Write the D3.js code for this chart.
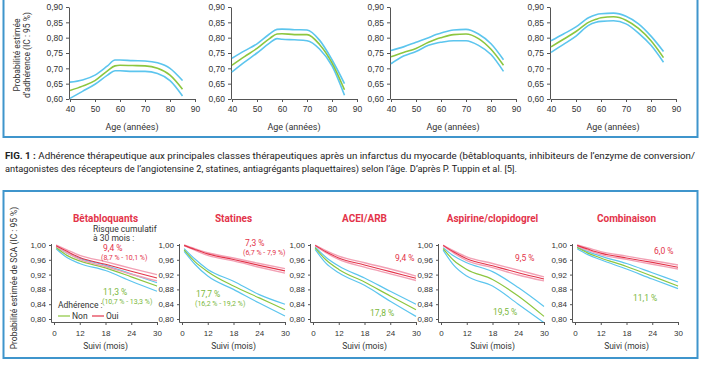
<!DOCTYPE html>
<html>
<head>
<meta charset="utf-8">
<script src="https://cdn.jsdelivr.net/npm/d3@7"></script>
<style>
  body { margin: 0; background: #fff; }
  svg { display: block; font-family: "Roboto", "Noto Sans", sans-serif; }
</style>
</head>
<body>
<svg id="fig" width="702" height="370"></svg>
<script>
// ---- top figure : adherence vs age ----
const ages = [40, 45, 50, 55, 58, 60, 65, 70, 75, 80, 85];
const topUpper = [
  [0.655, 0.662, 0.678, 0.708, 0.727, 0.727, 0.725, 0.724, 0.718, 0.700, 0.660],
  [0.733, 0.757, 0.780, 0.812, 0.827, 0.828, 0.826, 0.825, 0.792, 0.728, 0.650],
  [0.758, 0.770, 0.785, 0.800, 0.810, 0.815, 0.825, 0.827, 0.812, 0.780, 0.728],
  [0.790, 0.812, 0.835, 0.865, 0.875, 0.878, 0.880, 0.870, 0.845, 0.805, 0.755]
];
const topMid = [
  [0.628, 0.642, 0.660, 0.692, 0.708, 0.710, 0.709, 0.708, 0.700, 0.678, 0.632],
  [0.710, 0.738, 0.765, 0.797, 0.812, 0.813, 0.810, 0.810, 0.778, 0.718, 0.630],
  [0.738, 0.752, 0.765, 0.785, 0.795, 0.800, 0.810, 0.812, 0.797, 0.762, 0.710],
  [0.770, 0.795, 0.820, 0.850, 0.860, 0.865, 0.868, 0.857, 0.830, 0.790, 0.735]
];
const topLower = [
  [0.602, 0.625, 0.648, 0.678, 0.692, 0.692, 0.690, 0.690, 0.683, 0.660, 0.610],
  [0.688, 0.720, 0.750, 0.782, 0.797, 0.795, 0.793, 0.790, 0.763, 0.708, 0.612],
  [0.715, 0.740, 0.755, 0.775, 0.782, 0.785, 0.790, 0.790, 0.775, 0.745, 0.690],
  [0.752, 0.778, 0.805, 0.840, 0.850, 0.853, 0.855, 0.845, 0.815, 0.775, 0.720]
];
const ageTicks = [40, 50, 60, 70, 80, 90];
const adhTicks = [0.60, 0.65, 0.70, 0.75, 0.80, 0.85, 0.90];

// ---- caption ----
const caption1 = "Adhérence thérapeutique aux principales classes thérapeutiques après un infarctus du myocarde (bêtabloquants, inhibiteurs de l’enzyme de conversion/";
const caption2 = "antagonistes des récepteurs de l’angiotensine 2, statines, antiagrégants plaquettaires) selon l’âge. D’après P. Tuppin et al. [5].";

// ---- bottom figure : survival without ACS ----
const titles = ["Bêtabloquants", "Statines", "ACEI/ARB", "Aspirine/clopidogrel", "Combinaison"];
const months = [1, 6, 12, 18, 24, 30];
const ouiUp = [
  [1.000, 0.987, 0.972, 0.955, 0.937, 0.920],
  [1.000, 0.990, 0.979, 0.965, 0.950, 0.936],
  [1.000, 0.985, 0.970, 0.952, 0.935, 0.916],
  [1.000, 0.984, 0.968, 0.950, 0.932, 0.914],
  [1.000, 0.992, 0.982, 0.970, 0.958, 0.946]
];
const ouiMid = [
  [0.998, 0.983, 0.966, 0.948, 0.929, 0.911],
  [0.999, 0.988, 0.976, 0.961, 0.945, 0.930],
  [0.999, 0.982, 0.965, 0.946, 0.928, 0.910],
  [0.999, 0.981, 0.963, 0.944, 0.925, 0.908],
  [0.999, 0.989, 0.978, 0.965, 0.953, 0.940]
];
const ouiLo = [
  [0.996, 0.979, 0.961, 0.942, 0.921, 0.903],
  [0.998, 0.986, 0.972, 0.957, 0.940, 0.924],
  [0.998, 0.979, 0.961, 0.940, 0.922, 0.904],
  [0.998, 0.978, 0.958, 0.939, 0.919, 0.903],
  [0.998, 0.986, 0.974, 0.961, 0.948, 0.935]
];
const nonUp = [
  [0.995, 0.978, 0.964, 0.945, 0.922, 0.898],
  [0.990, 0.962, 0.934, 0.902, 0.866, 0.840],
  [0.995, 0.967, 0.943, 0.911, 0.875, 0.840],
  [0.993, 0.970, 0.952, 0.928, 0.885, 0.834],
  [0.995, 0.982, 0.970, 0.950, 0.925, 0.900]
];
const nonMid = [
  [0.993, 0.972, 0.957, 0.938, 0.914, 0.889],
  [0.987, 0.955, 0.928, 0.889, 0.857, 0.825],
  [0.992, 0.960, 0.934, 0.900, 0.862, 0.825],
  [0.990, 0.958, 0.934, 0.907, 0.862, 0.807],
  [0.993, 0.978, 0.965, 0.942, 0.916, 0.889]
];
const nonLo = [
  [0.990, 0.966, 0.950, 0.931, 0.902, 0.875],
  [0.983, 0.948, 0.916, 0.880, 0.843, 0.808],
  [0.988, 0.951, 0.925, 0.891, 0.848, 0.807],
  [0.986, 0.945, 0.916, 0.889, 0.840, 0.790],
  [0.990, 0.974, 0.960, 0.935, 0.908, 0.882]
];
const monthTicks = [0, 12, 18, 24, 30];
const scaTicks = [0.80, 0.84, 0.88, 0.92, 0.96, 1.00];
const riskOui = ["9,4 %", "7,3 %", "9,4 %", "9,5 %", "6,0 %"];
const riskOuiCI = ["(8,7 % - 10,1 %)", "(6,7 % - 7,9 %)", "", "", ""];
const riskNon = ["11,3 %", "17,7 %", "17,8 %", "19,5 %", "11,1 %"];
const riskNonCI = ["(10,7 % - 13,3 %)", "(16,2 % - 19,2 %)", "", "", ""];

const BLUE = "#5cc5ee", GREEN = "#8cc63f", RED = "#e3344a", PINK = "#f2a0b4";
const TXT = "#333";
const comma = d => d3.format(".2f")(d).replace(".", ",");

const svg = d3.select("#fig");

// frames
svg.append("rect").attr("x", 3.5).attr("y", -5).attr("width", 694).attr("height", 142)
  .attr("fill", "none").attr("stroke", "#3f95cc").attr("stroke-width", 2);
svg.append("rect").attr("x", 3.5).attr("y", 191).attr("width", 694).attr("height", 167)
  .attr("fill", "none").attr("stroke", "#3f95cc").attr("stroke-width", 2);

// ---------- top panels ----------
const topX0 = [70, 232, 391, 551];
const yTop = d3.scaleLinear().domain([0.60, 0.90]).range([99, 7]);

topX0.forEach((x0, i) => {
  const x = d3.scaleLinear().domain([40, 90]).range([x0, x0 + 125]);
  const g = svg.append("g");

  const yAx = g.append("g").attr("transform", `translate(${x0 - 1},0)`)
    .call(d3.axisLeft(yTop).tickValues(adhTicks).tickFormat(comma).tickSize(3).tickSizeOuter(0));
  const xAx = g.append("g").attr("transform", `translate(0,${99})`)
    .call(d3.axisBottom(x).tickValues(ageTicks).tickSize(3).tickSizeOuter(0));
  [yAx, xAx].forEach(a => {
    a.select(".domain").attr("stroke", "#555");
    a.selectAll(".tick line").attr("stroke", "#555");
    a.selectAll("text").attr("fill", TXT).style("font-size", "8.5px");
  });
  xAx.selectAll("text").attr("dy", "0.85em");

  const line = d3.line().x((d, k) => x(ages[k])).y(d => yTop(d)).curve(d3.curveMonotoneX);
  [[topUpper[i], BLUE], [topLower[i], BLUE], [topMid[i], GREEN]].forEach(([vals, c]) => {
    g.append("path").attr("d", line(vals)).attr("fill", "none")
      .attr("stroke", c).attr("stroke-width", 1.6);
  });

  g.append("text").attr("x", x0 + 62).attr("y", 130).attr("text-anchor", "middle")
    .attr("fill", TXT).style("font-size", "9px").text("Age (années)");
});

svg.append("text").attr("transform", "translate(20,55) rotate(-90)").attr("text-anchor", "middle")
  .attr("fill", TXT).style("font-size", "8.5px").text("Probabilité estimée");
svg.append("text").attr("transform", "translate(30,55) rotate(-90)").attr("text-anchor", "middle")
  .attr("fill", TXT).style("font-size", "8.5px").text("d’adhérence (IC : 95 %)");

// ---------- caption ----------
const cap = svg.append("text").attr("x", 5).attr("y", 159).attr("fill", "#222")
  .style("font-size", "9px").attr("textLength", 690).attr("lengthAdjust", "spacingAndGlyphs");
cap.append("tspan").style("font-weight", "bold").text("FIG. 1 : ");
cap.append("tspan").text(caption1);
svg.append("text").attr("x", 5).attr("y", 172).attr("fill", "#222")
  .style("font-size", "9px").attr("textLength", 512).attr("lengthAdjust", "spacingAndGlyphs")
  .text(caption2);

// ---------- bottom panels ----------
const botX0 = [54, 182, 313, 441, 575];
const W = 103;
const yBot = d3.scaleLinear().domain([0.80, 1.00]).range([319, 245]);

svg.append("defs").append("clipPath").attr("id", "clipB")
  .append("rect").attr("x", 0).attr("y", 240).attr("width", 702).attr("height", 82);

botX0.forEach((x0, i) => {
  // polylinear: the original axis spaces 0, 12, 18, 24, 30 evenly
  const x = d3.scaleLinear().domain(monthTicks).range(monthTicks.map((d, k) => x0 + k * W / 4));
  const g = svg.append("g");

  const yAx = g.append("g").attr("transform", `translate(${x0 - 2},0)`)
    .call(d3.axisLeft(yBot).tickValues(scaTicks).tickFormat(comma).tickSize(3).tickSizeOuter(0));
  const xAx = g.append("g").attr("transform", `translate(0,322)`)
    .call(d3.axisBottom(x).tickValues(monthTicks).tickSize(3).tickSizeOuter(0));
  yAx.select(".domain").attr("d", `M-0.5,${yBot(1.0) - 1}V322.5H0`);
  xAx.select(".domain").attr("d", `M${x0 - 2},0.5H${x(30)}`);
  [yAx, xAx].forEach(a => {
    a.select(".domain").attr("stroke", "#555");
    a.selectAll(".tick line").attr("stroke", "#555");
    a.selectAll("text").attr("fill", TXT).style("font-size", "8px");
  });
  xAx.selectAll("text").attr("dy", "1em");

  const line = d3.line().x((d, k) => x(months[k])).y(d => yBot(d)).curve(d3.curveMonotoneX);
  const cg = g.append("g").attr("clip-path", "url(#clipB)");
  [[nonUp[i], BLUE, 1.2], [nonLo[i], BLUE, 1.2], [nonMid[i], GREEN, 1.2],
   [ouiUp[i], PINK, 1.4], [ouiLo[i], PINK, 1.4], [ouiMid[i], RED, 1.1]].forEach(([vals, c, w]) => {
    cg.append("path").attr("d", line(vals)).attr("fill", "none")
      .attr("stroke", c).attr("stroke-width", w);
  });

  g.append("text").attr("x", x0 + W / 2).attr("y", 222).attr("text-anchor", "middle")
    .attr("fill", RED).style("font-size", "10px").style("font-weight", "bold").text(titles[i]);
  g.append("text").attr("x", x0 + W / 2).attr("y", 349).attr("text-anchor", "middle")
    .attr("fill", TXT).style("font-size", "8.5px").text("Suivi (mois)");
});

// annotations (cumulative risk at 30 months)
const ann = svg.append("g").style("font-size", "8.5px");
const ouiPos = [[103, 251], [245, 246], [395, 261], [515, 261], [654, 254]];
const nonPos = [[103, 295], [196, 297], [370, 316], [493, 315], [633, 301]];
riskOui.forEach((t, i) => {
  ann.append("text").attr("x", ouiPos[i][0]).attr("y", ouiPos[i][1]).attr("fill", RED).text(t);
  if (riskOuiCI[i]) ann.append("text").attr("x", ouiPos[i][0] - 2).attr("y", ouiPos[i][1] + 9)
    .attr("fill", RED).style("font-size", "7px").text(riskOuiCI[i]);
});
riskNon.forEach((t, i) => {
  ann.append("text").attr("x", nonPos[i][0]).attr("y", nonPos[i][1]).attr("fill", "#7ab83c").text(t);
  if (riskNonCI[i]) ann.append("text").attr("x", nonPos[i][0] - 1).attr("y", nonPos[i][1] + 9)
    .attr("fill", "#7ab83c").style("font-size", "7px").text(riskNonCI[i]);
});
ann.append("text").attr("x", 93).attr("y", 232).attr("fill", TXT).text("Risque cumulatif");
ann.append("text").attr("x", 93).attr("y", 241).attr("fill", TXT).text("à 30 mois :");
ann.append("text").attr("x", 58).attr("y", 308).attr("fill", TXT).text("Adhérence :");
// legend
const leg = [["Non", GREEN, 58], ["Oui", RED, 92]];
leg.forEach(([t, c, lx]) => {
  ann.append("line").attr("x1", lx).attr("x2", lx + 12).attr("y1", 316).attr("y2", 316)
    .attr("stroke", c).attr("stroke-width", 1.2);
  ann.append("text").attr("x", lx + 14).attr("y", 319).attr("fill", TXT).text(t);
});

svg.append("text").attr("transform", "translate(17,278) rotate(-90)").attr("text-anchor", "middle")
  .attr("fill", TXT).style("font-size", "8.5px").text("Probabilité estimée de SCA (IC : 95 %)");
</script>
</body>
</html>
